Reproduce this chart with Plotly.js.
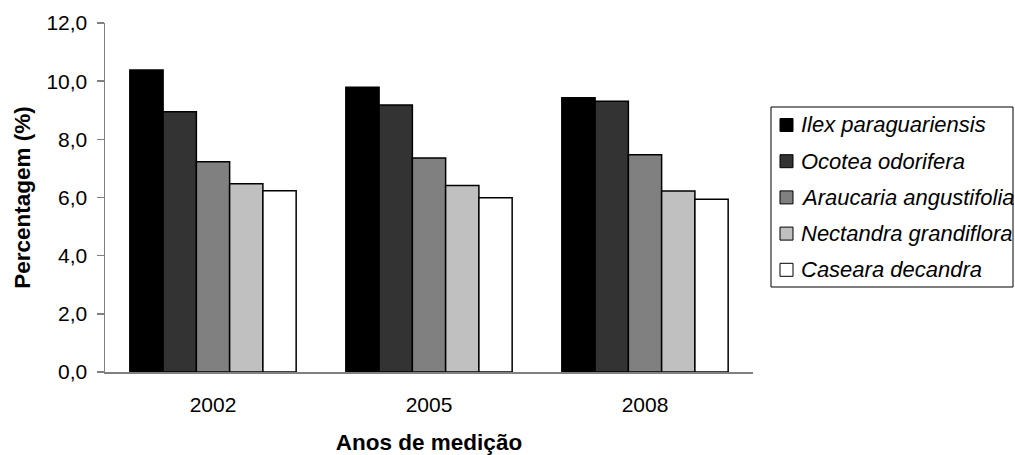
<!DOCTYPE html>
<html>
<head>
<meta charset="utf-8">
<script src="https://cdn.plot.ly/plotly-3.0.1.min.js"></script>
<style>
html,body{margin:0;padding:0;background:#fff;}
#chart{width:1015px;height:455px;}
</style>
</head>
<body>
<div id="chart"></div>
<script>
const years = ['2002', '2005', '2008'];
const species = ['Ilex paraguariensis', 'Ocotea odorifera', 'Araucaria angustifolia', 'Nectandra grandiflora', 'Caseara decandra'];
const ilex = [10.38, 9.79, 9.43];
const ocotea = [8.95, 9.18, 9.31];
const araucaria = [7.23, 7.36, 7.47];
const nectandra = [6.47, 6.41, 6.22];
const caseara = [6.23, 5.99, 5.94];
const colors = ['#000000', '#333333', '#808080', '#c0c0c0', '#ffffff'];
const yTicks = [0, 2, 4, 6, 8, 10, 12];

const W = 1015, H = 455;
const M = {l: 105, r: 262, t: 23, b: 83};
const plotW = W - M.l - M.r, plotH = H - M.t - M.b;
// convert page pixel position to paper coordinates (for the hand-drawn legend box)
const px = v => (v - M.l) / plotW;
const py = v => (H - M.b - v) / plotH;

const seriesValues = [ilex, ocotea, araucaria, nectandra, caseara];
const traces = species.map((name, i) => ({
  type: 'bar',
  name: name,
  x: years,
  y: seriesValues[i],
  marker: {color: colors[i], line: {color: '#000000', width: 1.5}},
  hoverinfo: 'none',
  showlegend: false
}));

const font = 'Arial, "Liberation Sans", sans-serif';

// legend (box, swatches, italic labels)
const legendBox = {left: 771, top: 107, right: 1013, bottom: 287};
const legendRowStart = 125, legendRowStep = 36.2, swatchLeft = 780, swatchSize = 13, textLeft = 799;
const shapes = [{
  type: 'rect', xref: 'paper', yref: 'paper',
  x0: px(legendBox.left), x1: px(legendBox.right), y0: py(legendBox.bottom), y1: py(legendBox.top),
  line: {color: '#000000', width: 1}, fillcolor: '#ffffff', layer: 'below'
}];
const annotations = [];
species.forEach((name, i) => {
  const cy = legendRowStart + i * legendRowStep;
  shapes.push({
    type: 'rect', xref: 'paper', yref: 'paper',
    x0: px(swatchLeft), x1: px(swatchLeft + swatchSize),
    y0: py(cy + swatchSize / 2), y1: py(cy - swatchSize / 2),
    line: {color: '#000000', width: 1}, fillcolor: colors[i]
  });
  annotations.push({
    xref: 'paper', yref: 'paper', x: px(textLeft), y: py(cy),
    xanchor: 'left', yanchor: 'middle', showarrow: false,
    text: '<i>' + name + '</i>',
    font: {family: font, size: 22, color: '#000000'}
  });
});

const layout = {
  width: W,
  height: H,
  paper_bgcolor: '#ffffff',
  plot_bgcolor: '#ffffff',
  separators: ',.',
  margin: {l: M.l, r: M.r, t: M.t, b: M.b, pad: 0},
  barmode: 'group',
  bargap: 0.23,
  bargroupgap: 0,
  showlegend: false,
  font: {family: font, size: 21, color: '#000000'},
  xaxis: {
    type: 'category',
    showgrid: false,
    zeroline: false,
    showline: true,
    linecolor: '#808080',
    linewidth: 1.5,
    ticks: '',
    ticklabelstandoff: 13,
    tickfont: {family: font, size: 21, color: '#000000'},
    title: {text: '<b>Anos de medição</b>', font: {family: font, size: 22.5, color: '#000000'}, standoff: 21},
    automargin: false
  },
  yaxis: {
    range: [0, 12],
    tickvals: yTicks,
    tickformat: '.1f',
    showgrid: false,
    zeroline: false,
    showline: true,
    linecolor: '#808080',
    linewidth: 1.5,
    ticks: 'outside',
    ticklen: 7,
    tickcolor: '#808080',
    tickwidth: 1.5,
    ticklabelstandoff: 5,
    tickfont: {family: font, size: 21, color: '#000000'},
    title: {text: '<b>Percentagem (%)</b>', font: {family: font, size: 22.5, color: '#000000'}, standoff: 9},
    automargin: false
  },
  shapes: shapes,
  annotations: annotations
};

Plotly.newPlot('chart', traces, layout, {staticPlot: true, displayModeBar: false});
</script>
</body>
</html>
